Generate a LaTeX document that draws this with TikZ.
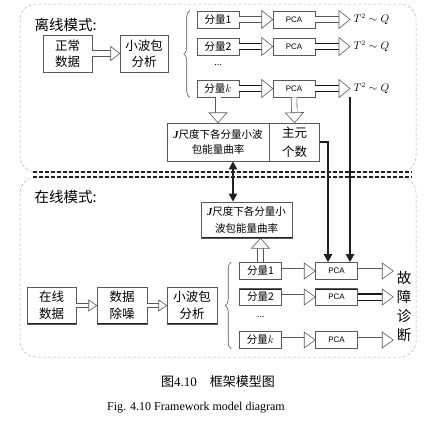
\documentclass[tikz,border=0pt]{standalone}
\usepackage{fontspec}
\setmainfont{Liberation Serif}
\setsansfont{Liberation Sans}
\newfontfamily\cjk{Noto Sans CJK SC}
\usetikzlibrary{arrows.meta,calc,positioning,decorations.pathreplacing}

\tikzset{
  plainbox/.style={draw=gray!70!black, line width=0.6pt, fill=white, inner sep=1pt,
                   align=center, font=\cjk\fontsize{12.5}{16}\selectfont},
  compbox/.style={plainbox, minimum width=42pt, minimum height=17pt, font=\cjk\fontsize{10.5}{11}\selectfont},
  pcabox/.style={plainbox, minimum width=42pt, minimum height=17pt, font=\sffamily\fontsize{8}{9}\selectfont},
  topthick/.style={path picture={\draw[line width=2.6pt, gray!25!black]
      (path picture bounding box.north west) -- (path picture bounding box.north east);}},
  tbthick/.style={path picture={\draw[line width=2.6pt, gray!25!black]
      (path picture bounding box.north west) -- (path picture bounding box.north east)
      (path picture bounding box.south west) -- (path picture bounding box.south east);}},
  shaft/.style={draw=gray!70!black, double=white, double distance=5pt, line width=0.6pt},
  thinshaft/.style={double distance=3.5pt},
  heavyshaft/.style={draw=gray!20!black, line width=1.3pt},
  tiphead/.style={draw=gray!70!black, fill=white, line width=0.6pt, line join=miter},
  darkarrow/.style={draw=gray!25!black, line width=2pt, -{Triangle[length=8pt,width=8pt]}},
  darkboth/.style={draw=gray!25!black, line width=2pt,
                   {Triangle[length=8pt,width=8pt]}-{Triangle[length=8pt,width=8pt]}},
  modebox/.style={draw=gray!60, dash pattern=on 3pt off 2pt, line width=0.5pt, rounded corners=16pt},
  sepline/.style={draw=gray!25!black, line width=1.6pt, dash pattern=on 4pt off 2pt},
  bracket/.style={draw=gray!70!black, line width=0.6pt, decorate, decoration={brace, amplitude=6pt}},
  modetitle/.style={anchor=west, font=\cjk\fontsize{14.5}{16}\selectfont},
}

% hollow block arrow: [shaft options]{from}{to}{head length}{head half width}
\newcommand{\fatarrow}[5][]{%
  \coordinate (fa) at ($(#3)!#4!(#2)$);
  \draw[shaft,#1] (#2) -- (fa);
  \draw[tiphead] ($(fa)!#5!90:(#3)$) -- (#3) -- ($(fa)!#5!-90:(#3)$) -- cycle;}

\begin{document}
\begin{tikzpicture}[x=1pt,y=-1pt]
  \useasboundingbox (0,0) rectangle (434,423);

  % the two mode regions
  \draw[modebox] (20,4) rectangle (416,172);
  \draw[modebox] (20,177) rectangle (416,357);
  \draw[sepline] (33,172) -- (412,172);
  \draw[sepline] (33,177) -- (412,177);

  % offline mode
  \node[modetitle] (offt) at (31,25) {离线模式:};
  \node[plainbox, minimum width=49pt, minimum height=37pt] (norm) at (67.5,53.5) {正常\\数据};
  \node[plainbox, minimum width=48pt, minimum height=37pt] (wpoff) at (144,53.5) {小波包\\分析};
  \node[compbox, topthick] (c1) at (218,19.5) {分量1};
  \node[compbox] (c2) at (218,46.5) {分量2};
  \node[font=\fontsize{10}{10}\selectfont] (cdots) at (218,65) {...};
  \node[compbox] (ck) at (218,88.5) {分量$k$};
  \node[pcabox, topthick] (p1) at (294,19.5) {PCA};
  \node[pcabox] (p2) at (294,46.5) {PCA};
  \node[pcabox] (pk) at (294,88.5) {PCA};
  \node[anchor=west, font=\fontsize{10.5}{12}\selectfont] (t1) at (350,19.5) {$T^2\sim Q$};
  \node[anchor=west, font=\fontsize{10.5}{12}\selectfont] (t2) at (350,46.5) {$T^2\sim Q$};
  \node[anchor=west, font=\fontsize{10.5}{12}\selectfont] (tk) at (350,88.5) {$T^2\sim Q$};

  \fatarrow{norm.east}{wpoff.west}{9pt}{7pt}
  \draw[bracket] ($(ck.south west)+(-7,0)$) -- ($(c1.north west)+(-7,0)$);
  \fatarrow{c1.east}{p1.west}{11pt}{9pt}
  \fatarrow[heavyshaft]{c2.east}{p2.west}{11pt}{9pt}
  \fatarrow[heavyshaft]{ck.east}{pk.west}{11pt}{9pt}
  \fatarrow{p1.east}{t1.west}{11pt}{9pt}
  \fatarrow[heavyshaft]{p2.east}{t2.west}{11pt}{9pt}
  \fatarrow[heavyshaft]{pk.east}{tk.west}{11pt}{9pt}

  % curvature and number of principal components
  \node[plainbox, minimum width=102pt, minimum height=38pt, font=\cjk\fontsize{10.5}{15}\selectfont]
    (joff) at (218,142) {{\rmfamily\bfseries\itshape J}尺度下各分量小波\\包能量曲率};
  \node[plainbox, right=0pt of joff, minimum width=50pt, minimum height=38pt,
        font=\cjk\fontsize{12.5}{19}\selectfont] (npc) {主元\\个数};
  \fatarrow{ck.south}{joff.north}{10pt}{9pt}
  \fatarrow{pk.south}{npc.north}{10pt}{9pt}

  % online mode
  \node[modetitle] (ont) at (31,197) {在线模式:};
  \node[plainbox, tbthick, minimum width=91pt, minimum height=36pt, font=\cjk\fontsize{10.5}{17}\selectfont]
    (jon) at (246.5,220) {{\rmfamily\bfseries\itshape J}尺度下各分量小\\波包能量曲率};
  \node[plainbox, tbthick, minimum width=49pt, minimum height=37pt, font=\cjk\fontsize{12.5}{17}\selectfont]
    (ond) at (51.5,305.5) {在线\\数据};
  \node[plainbox, tbthick, minimum width=50pt, minimum height=37pt, font=\cjk\fontsize{12.5}{17}\selectfont]
    (den) at (122,305.5) {数据\\除噪};
  \node[plainbox, tbthick, minimum width=50pt, minimum height=37pt, font=\cjk\fontsize{12.5}{17}\selectfont]
    (wpon) at (192,305.5) {小波包\\分析};
  \node[compbox] (c1on) at (260.5,271) {分量1};
  \node[compbox, topthick] (c2on) at (260.5,297) {分量2};
  \node[font=\fontsize{10}{10}\selectfont] (cdotson) at (260.5,317) {...};
  \node[compbox] (ckon) at (260.5,340) {分量$k$};
  \node[pcabox] (p1on) at (336.5,271) {PCA};
  \node[pcabox, topthick] (p2on) at (336.5,297) {PCA};
  \node[pcabox] (pkon) at (336.5,340) {PCA};
  \node[align=center, font=\cjk\fontsize{14.5}{19}\selectfont] (diag) at (404,307) {故\\障\\诊\\断};

  \fatarrow[thinshaft]{ond.east}{den.west}{8pt}{5.5pt}
  \fatarrow[thinshaft]{den.east}{wpon.west}{8pt}{5.5pt}
  \draw[bracket] ($(ckon.south west)+(-8,0)$) -- ($(c1on.north west)+(-8,0)$);
  \fatarrow{c1on.east}{p1on.west}{11pt}{8pt}
  \fatarrow{c2on.east}{p2on.west}{11pt}{8pt}
  \fatarrow{ckon.east}{pkon.west}{11pt}{8pt}
  \fatarrow{p1on.east}{diag.west |- p1on.east}{11pt}{8pt}
  \fatarrow[heavyshaft]{p2on.east}{diag.west |- p2on.east}{11pt}{8pt}
  \fatarrow{pkon.east}{diag.west |- pkon.east}{11pt}{8pt}
  \fatarrow{c1on.north}{c1on.north |- jon.south}{10pt}{9pt}

  % links between the modes
  \draw[darkboth] ($(joff.south)+(15,0)$) coordinate (dtop) -- (dtop |- jon.north);
  \draw[darkarrow] (npc.east) -| ($(p1on.north)+(-8.5,0)$);
  \draw[darkarrow] (tk.south west) -- (tk.south west |- p1on.north);

  % caption
  \node[font=\cjk\fontsize{13}{15}\selectfont] (cap1) at (218,382) {图{\rmfamily 4.10}\quad 框架模型图};
  \node[font=\fontsize{12}{14}\selectfont] (cap2) at (196,408) {Fig. 4.10 Framework model diagram};
\end{tikzpicture}
\end{document}
